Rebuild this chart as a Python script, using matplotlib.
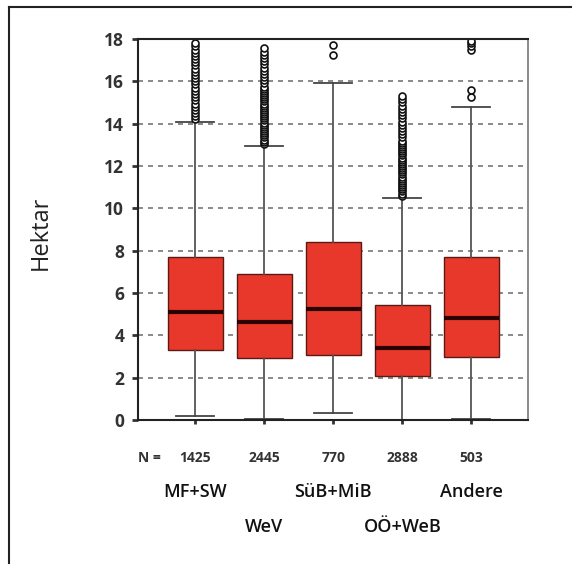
import matplotlib
matplotlib.use("Agg")
import matplotlib.pyplot as plt
from matplotlib.lines import Line2D

plt.rcParams['font.family'] = ['Open Sans', 'DejaVu Sans']

categories = ["MF+SW", "WeV", "SüB+MiB", "OÖ+WeB", "Andere"]
counts = ["1425", "2445", "770", "2888", "503"]
q1 = [3.32, 2.94, 3.08, 2.08, 2.99]
median = [5.12, 4.64, 5.26, 3.41, 4.83]
q3 = [7.68, 6.92, 8.39, 5.45, 7.72]
whislo = [0.2, 0.05, 0.35, 0.0, 0.05]
whishi = [14.07, 12.94, 15.9, 10.5, 14.8]
outliers = [
    [14.2, 14.35, 14.5, 14.65, 14.8, 14.95, 15.1, 15.25, 15.4, 15.55, 15.7, 15.85,
     16.0, 16.15, 16.3, 16.45, 16.6, 16.75, 16.9, 17.05, 17.2, 17.35, 17.5, 17.65, 17.8],
    [13.05, 13.15, 13.25, 13.35, 13.45, 13.55, 13.65, 13.75, 13.85, 13.95, 14.05, 14.15,
     14.25, 14.35, 14.45, 14.55, 14.65, 14.75, 14.85, 14.95, 15.05, 15.15, 15.25, 15.35,
     15.45, 15.55, 15.65, 15.75, 15.9, 16.05, 16.2, 16.35, 16.5, 16.65, 16.8, 16.95,
     17.1, 17.25, 17.4, 17.55],
    [17.25, 17.7],
    [10.6, 10.7, 10.8, 10.9, 11.0, 11.1, 11.2, 11.3, 11.4, 11.5, 11.6, 11.7, 11.8, 11.9,
     12.0, 12.1, 12.2, 12.3, 12.4, 12.5, 12.6, 12.7, 12.8, 12.9, 13.0, 13.1, 13.2, 13.35,
     13.5, 13.65, 13.8, 13.95, 14.1, 14.25, 14.4, 14.55, 14.7, 14.85, 15.0, 15.15, 15.3],
    [15.25, 15.6, 17.5, 17.65, 17.8, 17.9],
]
yticks = [0, 2, 4, 6, 8, 10, 12, 14, 16, 18]

fig = plt.figure(figsize=(5.72, 5.64), dpi=100)
fig.patch.set_facecolor('white')
ax = fig.add_axes([0.2413, 0.2553, 0.6818, 0.6756])

stats = []
for i in range(len(categories)):
    stats.append(dict(med=median[i], q1=q1[i], q3=q3[i], whislo=whislo[i],
                      whishi=whishi[i], fliers=outliers[i], label=categories[i]))

positions = list(range(1, len(categories) + 1))
ax.bxp(stats, positions=positions, widths=0.8, patch_artist=True,
       showfliers=True, capwidths=0.55,
       boxprops=dict(facecolor='#E8382B', edgecolor='#5a1a14', linewidth=1.0),
       medianprops=dict(color='#2a0000', linewidth=3.0),
       whiskerprops=dict(color='#555555', linewidth=1.3),
       capprops=dict(color='#444444', linewidth=1.3),
       flierprops=dict(marker='o', markersize=5, markerfacecolor='white',
                       markeredgecolor='#111111', markeredgewidth=1.2))

ax.set_xlim(0.17, 5.82)
ax.set_ylim(0, 18)
ax.set_yticks(yticks)
ax.set_yticklabels([str(v) for v in yticks], fontsize=12.5, fontweight='bold', color='#333333')
ax.yaxis.grid(True, linestyle=(0, (3, 3)), color='#777777', linewidth=1.2)
ax.set_axisbelow(True)
ax.set_xticks(positions)
ax.set_xticklabels([''] * len(positions))
ax.tick_params(axis='x', length=3, width=2, color='#333333', direction='out')
ax.tick_params(axis='y', length=4, width=2, color='#333333', direction='out', pad=6)

for side in ['left', 'bottom', 'top']:
    ax.spines[side].set_color('#222222')
    ax.spines[side].set_linewidth(1.5)
ax.spines['right'].set_color('#777777')
ax.spines['right'].set_linewidth(1.2)

ax.set_ylabel('Hektar', fontsize=17, fontweight='medium', color='#222222')
ax.yaxis.set_label_coords(-0.218, 0.49)

# N counts row
trans = ax.get_xaxis_transform()
ax.text(0.0, -0.10, 'N =', transform=ax.transAxes, ha='left', va='center',
        fontsize=10, fontweight='bold', color='#333333')
for p, c in zip(positions, counts):
    ax.text(p, -0.10, c, transform=trans, ha='center', va='center',
            fontsize=10, fontweight='bold', color='#333333')
for i, (p, lab) in enumerate(zip(positions, categories)):
    y = -0.19 if i % 2 == 0 else -0.28
    ax.text(p, y, lab, transform=trans, ha='center', va='center',
            fontsize=13, fontweight='semibold', color='#111111')

# outer frame lines (top and left)
fig.add_artist(Line2D([9 / 572, 1.0], [1 - 7 / 564, 1 - 7 / 564],
                      transform=fig.transFigure, color='#222222', linewidth=1.5))
fig.add_artist(Line2D([9 / 572, 9 / 572], [0.0, 1 - 7 / 564],
                      transform=fig.transFigure, color='#222222', linewidth=1.5))

fig.savefig('out.png', dpi=100, facecolor='white')
